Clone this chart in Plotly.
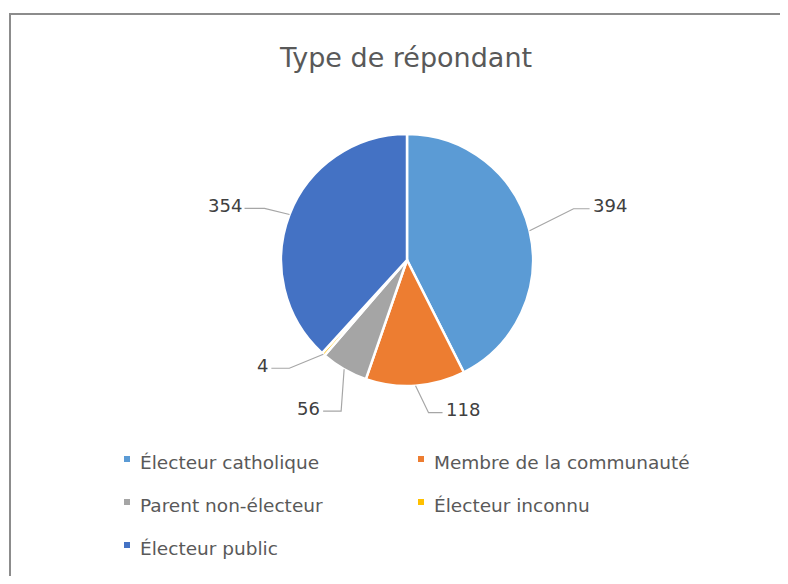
import math

import plotly.graph_objects as go

# data
labels = ["Électeur catholique", "Membre de la communauté", "Parent non-électeur",
          "Électeur inconnu", "Électeur public"]
values = [394, 118, 56, 4, 354]
colors = ["#5B9BD5", "#ED7D31", "#A5A5A5", "#FFC000", "#4472C4"]
title_text = "Type de répondant"

PAGE_OFF = 8  # browser body margin, the figure starts 8px in
W, H = 788 - 2 * PAGE_OFF, 584 - 2 * PAGE_OFF  # keep the page free of scrollbars
CX, CY, R = 407, 260, 126  # pie centre / radius in window px

# leader line layout per slice: elbow offset from slice edge (dx, dy) and horizontal run
LEADERS = [(44, -22, 16), (13, 27, 14), (-3, 42, -18), (-34, 14, -18), (-25, -6, -20)]


def px(x, y):
    """window pixel -> paper fraction"""
    return (x - PAGE_OFF) / W, 1 - (y - PAGE_OFF) / H


d0, d1 = px(CX - R, CY + R), px(CX + R, CY - R)
fig = go.Figure(go.Pie(
    labels=labels,
    values=values,
    marker=dict(colors=colors, line=dict(color="white", width=2.5)),
    sort=False,
    direction="clockwise",
    rotation=0,
    textinfo="none",
    hoverinfo="label+value",
    showlegend=False,
    domain=dict(x=[d0[0], d1[0]], y=[d0[1], d1[1]]),
))

shapes = []
annotations = []

# data labels with elbow leader lines, computed from slice mid angles
total = sum(values)
cum = 0
for v, (dx, dy, run) in zip(values, LEADERS):
    mid = (cum + v / 2) / total * 2 * math.pi
    cum += v
    ex, ey = CX + R * math.sin(mid), CY - R * math.cos(mid)
    bx, by = ex + dx, ey + dy
    tx, ty = bx + run, by
    p0, p1, p2 = px(ex, ey), px(bx, by), px(tx, ty)
    shapes.append(dict(type="path", xref="paper", yref="paper",
                       path=f"M {p0[0]} {p0[1]} L {p1[0]} {p1[1]} L {p2[0]} {p2[1]}",
                       line=dict(color="#A6A6A6", width=1.2)))
    lx, ly = px(tx + (1 if run > 0 else -1), ty - 3)
    annotations.append(dict(x=lx, y=ly, xref="paper", yref="paper", text=str(v),
                            showarrow=False, xanchor="left" if run > 0 else "right",
                            yanchor="middle", font=dict(size=18, color="#404040")))

# legend drawn by hand so the rows are spaced like the original
for i, (lab, col) in enumerate(zip(labels, colors)):
    x0 = 124 + (i % 2) * 294
    y0 = 462 + (i // 2) * 43
    a, b = px(x0, y0 - 6), px(x0 + 6, y0)
    shapes.append(dict(type="rect", xref="paper", yref="paper", x0=a[0], y0=a[1], x1=b[0], y1=b[1],
                       fillcolor=col, line=dict(width=0)))
    tx, ty = px(x0 + 14, y0)
    annotations.append(dict(x=tx, y=ty, xref="paper", yref="paper", text=lab, showarrow=False,
                            xanchor="left", yanchor="middle", font=dict(size=18.5, color="#595959")))

# chart frame (right and bottom sides fall outside the window, as in the original)
f0, f1 = px(10, 14), px(840, 640)
shapes.append(dict(type="rect", xref="paper", yref="paper", x0=f0[0], y0=f1[1], x1=f1[0], y1=f0[1],
                   line=dict(color="#8C8C8C", width=2), fillcolor="rgba(0,0,0,0)"))

tx, ty = px(406, 58)
fig.update_layout(
    width=W, height=H,
    margin=dict(l=0, r=0, t=0, b=0),
    paper_bgcolor="white",
    font=dict(family="DejaVu Sans, sans-serif"),
    title=dict(text=title_text, x=tx, xanchor="center", y=ty, yanchor="middle",
               font=dict(size=27, color="#595959")),
    shapes=shapes,
    annotations=annotations,
)

fig.write_html("out.html")
